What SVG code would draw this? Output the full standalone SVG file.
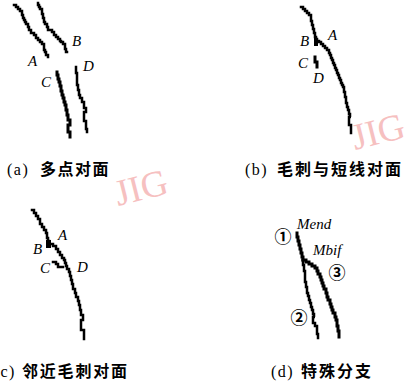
<svg xmlns="http://www.w3.org/2000/svg" width="408" height="384" viewBox="0 0 408 384">
  <style>
    .edge { fill: none; stroke: #000; stroke-width: 2.5; stroke-linejoin: miter; stroke-linecap: square; }
    .thick { stroke-width: 3; }
    .lbl { font-family: "Liberation Serif", "DejaVu Serif", serif; font-style: italic; font-size: 15px; fill: #000; }
    .num { font-family: "Noto Sans CJK SC", "DejaVu Sans", sans-serif; font-size: 17px; font-weight: bold; fill: #000; text-anchor: middle; }
    .cap { font-family: "Noto Sans CJK SC", "Noto Sans", sans-serif; font-size: 16px; font-weight: bold; fill: #000; }
    .capl { font-family: "Liberation Serif", "DejaVu Serif", serif; font-size: 16px; fill: #000; }
    .mark { font-family: "Liberation Serif", "Times New Roman", serif; font-size: 37px; fill: #f6c0c0; }
  </style>

  <rect width="408" height="384" fill="#fff"/>

  <!-- faint marks -->
  <text class="mark" x="355" y="150" transform="rotate(-14 355 150)">JIG</text>
  <text class="mark" x="118" y="206" transform="rotate(-14 118 206)">JIG</text>

  <!-- (a) several points facing each other -->
  <g id="panel-a">
    <g id="a-ridges">
      <path class="edge" d="M14,5 h2 v2 h2 v2 h2 v2 h2 v1 v3 h1 v3 h1 v2 h1 v2 h1 v2 h2 v3 h1 v3 h2 v3 h1 h2 v2 h2 v3 h2 v2 h2 v2 h2 v2 h2 v3 v3 h1 v2 h1 v3 h2 v2"/>
      <path class="edge" d="M38,3 v2 h1 v2 h1 v2 h2 v1 v4 h1 v4 h1 v4 h1 v2 h2 v3 h1 v3 h2 h2 v2 h2 v3 h2 v2 h2 v2 h2 v2 h1 v1 h2 v2 h2 v3 v2 h1 v3 h1"/>
      <path class="edge thick" d="M57,72 v3 h1 v4 h1 v3 h1 v4 h1 v5 h1 v4 h1 v3 h1 v4 h1 v3 h1 v5 h1 v5 h1 v5 h2 v5 h-2 v3 v4 h2 v5"/>
      <path class="edge" d="M76,67 v6 h1 v7 v5 h1 v5 h1 v5 h1 v3 h2 v4 h2 v3 v3 h2 v4 h-2 v6 v3 h2 v4 v4 h1 v3"/>
    </g>
    <g id="a-labels">
      <text class="lbl" x="28" y="66">A</text>
      <text class="lbl" x="72" y="46">B</text>
      <text class="lbl" x="41" y="87">C</text>
      <text class="lbl" x="83" y="71">D</text>
    </g>
    <text id="a-caption"><tspan class="capl" x="7" y="175" letter-spacing="1.5">(a)</tspan><tspan class="cap" x="40" y="175" letter-spacing="1.5">多点对面</tspan></text>
  </g>

  <!-- (b) spur facing a short line -->
  <g id="panel-b">
    <g id="b-ridges">
      <path class="edge" d="M301,7 h2 v2 h2 v2 h2 v2 h2 v2 h2 v2 v4 h1 v4 h1 v4 h1 v4 h1 v4 h1 v2 h1 v2 h2 v1 h2 v2 h2 v2 h2 v2 h2 v2 h2 v3 h1 v2 h1 v3 h1 v2 h1 v3 h1 v2 h1 v3 h1 v2 h1 v3 h1 v2 h1 v3 h1 v2 h1 v3 h1 v2 h1 v2 h1 v5 h1 v5 h1 v6 h1 v4 h1 v3 h1 v4 h1 v3 h1 h-2 v3 v5 h2 v8"/>
      <rect x="314" y="38" width="4" height="8" fill="#000"/>
      <path class="edge thick" d="M315,57 v5 h2 v5"/>
    </g>
    <g id="b-labels">
      <text class="lbl" x="300" y="46">B</text>
      <text class="lbl" x="328" y="40">A</text>
      <text class="lbl" x="298" y="68">C</text>
      <text class="lbl" x="313" y="83">D</text>
    </g>
    <text id="b-caption"><tspan class="capl" x="245" y="175" letter-spacing="1.5">(b)</tspan><tspan class="cap" x="277" y="175" letter-spacing="2">毛刺与短线对面</tspan></text>
  </g>

  <!-- (c) adjacent spurs facing each other -->
  <g id="panel-c">
    <g id="c-ridges">
      <path class="edge" d="M32,210 h2 v3 h2 v3 h2 v3 h2 v3 v2 h2 v3 h2 v3 h2 v3 h1 v2 v3 h1 v3 h1 v3 h1 h3 v2 h3 v3 h2 v3 h2 v3 h2 v3 h2 v2 h1 v3 h1 v3 h1 v3 h2 v3 h1 v4 h1 v4 h1 v4 h1 v5 h2 v4 h1 v4 h2 v4 h1 v4 h1 v5 h1 v5 h2 v5 h-2 v5 v5 h3 v9"/>
      <rect x="46" y="240" width="5" height="8" fill="#000"/>
      <path class="edge" d="M53,262 h3 v2 h2 v3 h5"/>
    </g>
    <g id="c-labels">
      <text class="lbl" x="58" y="240">A</text>
      <text class="lbl" x="33" y="254">B</text>
      <text class="lbl" x="40" y="273">C</text>
      <text class="lbl" x="77" y="272">D</text>
    </g>
    <text id="c-caption"><tspan class="capl" x="0.5" y="377" letter-spacing="1.5">c)</tspan><tspan class="cap" x="22" y="377" letter-spacing="1.8">邻近毛刺对面</tspan></text>
  </g>

  <!-- (d) special branch -->
  <g id="panel-d">
    <g id="d-ridges">
      <path class="edge thick" d="M297,233 v4 h1 v4 h1 v4 h1 v4 h1 v4 h1 v4 h1 v3"/>
      <path class="edge" d="M303,260 v5 h1 v6 h1 v6 v5 h1 v5 h1 v6 h1 v3 h1 v4 h1 v3 h1 v4 h1 v3 h1 v4 h1 v3 h1 h-2 v6 h2 v3 h2 v4 v4 h1 v4"/>
      <path class="edge thick" d="M303,260 h3 v2 h3 v2 h3 v2 h3 v2 h2 v3 h1 v3 h2 v3 h1 v3 h1 v3 h1 v3 h1 v3 h2 v4 h1 v4 h1 v3 h2 v4 h1 v3 h1 v3 h1 v3 h2 v4 h1 v3 h1 v6 h1 v5 h1 v6"/>
    </g>
    <g id="d-labels">
      <text class="lbl" x="297" y="229">Mend</text>
      <text class="lbl" x="313" y="255">Mbif</text>
      <text class="num" x="283" y="243">①</text>
      <text class="num" x="337" y="279">③</text>
      <text class="num" x="299" y="324">②</text>
    </g>
    <text id="d-caption"><tspan class="capl" x="271" y="377" letter-spacing="1.5">(d)</tspan><tspan class="cap" x="301" y="377" letter-spacing="2">特殊分支</tspan></text>
  </g>
</svg>
